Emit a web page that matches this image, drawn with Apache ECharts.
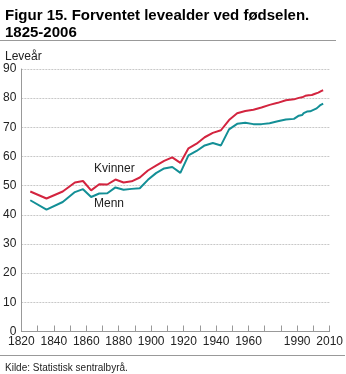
<!DOCTYPE html>
<html>
<head>
<meta charset="utf-8">
<script src="https://cdn.jsdelivr.net/npm/echarts@6/dist/echarts.min.js"></script>
<style>
  html, body { margin: 0; padding: 0; background: #fff; }
  #chart { width: 346px; height: 374px; }
</style>
</head>
<body>
<div id="chart"></div>
<script>
// Period midpoints (5/10-year periods up to 1990, then single years)
const years = [1825.5, 1835.5, 1845.5, 1853, 1858, 1863, 1868, 1873, 1878, 1883, 1888,
  1893, 1898, 1903, 1908, 1913, 1918, 1923, 1928, 1933, 1938, 1943, 1948, 1953, 1958,
  1963, 1968, 1973, 1978, 1983, 1988,
  1991, 1992, 1993, 1994, 1995, 1996, 1997, 1998, 1999, 2000, 2001, 2002, 2003, 2004, 2005, 2006];

// Expected life at birth, women
const kvinner = [48.0, 45.6, 48.0, 51.1, 51.6, 48.4, 50.5, 50.4, 52.1, 51.1, 51.5,
  52.8, 55.2, 56.9, 58.5, 59.7, 57.8, 62.8, 64.4, 66.6, 68.1, 69.0, 72.5, 74.8, 75.6,
  76.0, 76.8, 77.7, 78.4, 79.3, 79.6,
  80.1, 80.4, 80.3, 80.9, 80.8, 81.1, 81.0, 81.3, 81.1, 81.4, 81.5, 81.5, 81.9, 82.3, 82.5, 82.7];

// Expected life at birth, men
const menn = [45.0, 41.8, 44.4, 47.8, 48.8, 46.1, 47.3, 47.4, 49.4, 48.6, 48.9,
  49.1, 52.0, 54.3, 55.9, 56.4, 54.4, 60.4, 61.9, 63.8, 64.6, 63.8, 69.3, 71.2, 71.6,
  71.1, 71.1, 71.4, 72.1, 72.7, 72.9,
  74.0, 74.2, 74.2, 74.9, 74.8, 75.4, 75.5, 75.5, 75.6, 76.0, 76.2, 76.5, 77.0, 77.5, 77.7, 78.1];

// Years that get a label on the x axis
const xLabels = [1820, 1840, 1860, 1880, 1900, 1920, 1940, 1960, 1990, 2010];

const pairs = (ys) => years.map((y, i) => [y, ys[i]]);

const chart = echarts.init(document.getElementById('chart'), null, { renderer: 'canvas' });
const FONT = 'Liberation Sans, Arial, sans-serif';

chart.setOption({
  animation: false,
  backgroundColor: '#ffffff',
  textStyle: { fontFamily: FONT },
  title: [
    {
      text: 'Figur 15. Forventet levealder ved fødselen.\n1825-2006',
      left: 0, top: 2,
      textStyle: { fontFamily: FONT, fontSize: 15, fontWeight: 'bold', color: '#000', lineHeight: 17 }
    },
    {
      text: 'Leveår',
      left: 0, top: 46,
      textStyle: { fontFamily: FONT, fontSize: 12, fontWeight: 'normal', color: '#222' }
    },
    {
      text: 'Kilde: Statistisk sentralbyrå.',
      left: 0, top: 358,
      textStyle: { fontFamily: FONT, fontSize: 10, fontWeight: 'normal', color: '#222' }
    }
  ],
  grid: { left: 18, right: 14.5, top: 69, bottom: 42.5, containLabel: false },
  xAxis: {
    type: 'value', min: 1820, max: 2010, interval: 10,
    axisLine: { show: true, lineStyle: { color: '#999', width: 1 } },
    axisTick: { show: true, inside: true, length: 6, lineStyle: { color: '#999' } },
    splitLine: { show: false },
    axisLabel: {
      color: '#222', fontSize: 12, fontFamily: FONT, margin: 4,
      formatter: (v) => xLabels.includes(v) ? String(v) : ''
    }
  },
  yAxis: {
    type: 'value', min: 0, max: 90, interval: 10,
    axisLine: { show: true, lineStyle: { color: '#999', width: 1 } },
    axisTick: { show: false },
    axisLabel: { color: '#222', fontSize: 12, fontFamily: FONT, margin: 5 },
    splitLine: { show: true, lineStyle: { color: '#c8c8c8', type: [2, 1], width: 1 } }
  },
  series: [
    {
      name: 'Kvinner', type: 'line', data: pairs(kvinner),
      showSymbol: false, lineStyle: { color: '#d3243f', width: 2 }, itemStyle: { color: '#d3243f' }
    },
    {
      name: 'Menn', type: 'line', data: pairs(menn),
      showSymbol: false, lineStyle: { color: '#138f96', width: 2 }, itemStyle: { color: '#138f96' }
    }
  ],
  // Rules under the heading and above the source note, plus the series names beside the lines
  graphic: [
    { type: 'line', shape: { x1: 0, y1: 40.5, x2: 336, y2: 40.5 }, style: { stroke: '#999', lineWidth: 1 } },
    { type: 'line', shape: { x1: 0, y1: 355.5, x2: 345, y2: 355.5 }, style: { stroke: '#999', lineWidth: 1 } },
    { type: 'text', left: 94, top: 163, style: { text: 'Kvinner', font: '12px ' + FONT, fill: '#222' } },
    { type: 'text', left: 94, top: 198, style: { text: 'Menn', font: '12px ' + FONT, fill: '#222' } }
  ]
});
</script>
</body>
</html>
